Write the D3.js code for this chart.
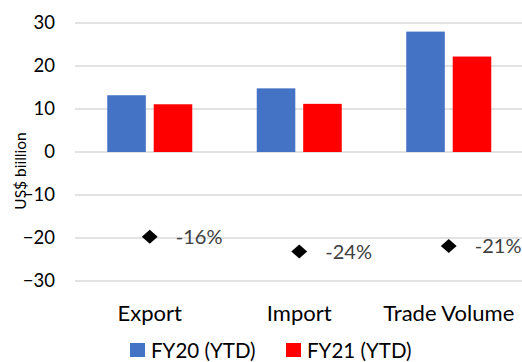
<!DOCTYPE html>
<html>
<head>
<meta charset="utf-8">
<script src="https://cdn.jsdelivr.net/npm/d3@7"></script>
<style>
  html, body { margin: 0; padding: 0; background: #fff; }
  svg { display: block; font-family: Lato, "Open Sans", sans-serif; }
</style>
</head>
<body>
<svg id="chart" width="522" height="362"></svg>
<script>
// Trade figures, US$ billion (year to date)
const categories = ["Export", "Import", "Trade Volume"];
const seriesNames = ["FY20 (YTD)", "FY21 (YTD)"];
const fy20 = [13.2, 14.8, 28.0];
const fy21 = [11.1, 11.2, 22.2];
// Year-on-year change, percent (plotted on a hidden secondary axis)
const changePct = [-16, -24, -21];
const yTicks = [-30, -20, -10, 0, 10, 20, 30];
const colors = ["#4472C4", "#FF0000"];

const svg = d3.select("#chart");
const plot = { left: 75, right: 523.5, top: 23, bottom: 281 };

const x = d3.scaleBand().domain(categories).range([plot.left, plot.right]);
const xSeries = d3.scaleBand().domain(seriesNames)
  .range([-42.5, 42.5]).paddingInner(0.17);
const y = d3.scaleLinear().domain([-30, 30]).range([plot.bottom, plot.top]);
const y2 = d3.scaleLinear().domain([-40, 100]).range([plot.bottom, plot.top]);

// gridlines
svg.append("g")
  .selectAll("line").data(yTicks).join("line")
  .attr("x1", plot.left).attr("x2", plot.right)
  .attr("y1", d => y(d)).attr("y2", d => y(d))
  .attr("stroke", "#d9d9d9").attr("stroke-width", 1.3);

// y axis labels
const yAxis = svg.append("g")
  .attr("transform", `translate(${plot.left - 20},0)`)
  .call(d3.axisLeft(y).tickValues(yTicks).tickSize(0).tickPadding(0));
yAxis.select(".domain").remove();
yAxis.selectAll("text")
  .attr("font-family", "Lato, sans-serif")
  .attr("font-size", 18.5).attr("fill", "#000");

// y axis title
svg.append("text")
  .attr("transform", "translate(26,171) rotate(-90)")
  .attr("text-anchor", "middle")
  .attr("font-size", 15.5).attr("fill", "#000")
  .text("US$ biillion");

// bars
const rows = categories.map((c, i) => ({ cat: c, vals: [fy20[i], fy21[i]] }));
const groups = svg.append("g").selectAll("g").data(rows).join("g")
  .attr("transform", d => `translate(${x(d.cat) + x.bandwidth() / 2},0)`);
groups.selectAll("rect")
  .data(d => d.vals.map((v, j) => ({ name: seriesNames[j], v, j })))
  .join("rect")
  .attr("x", d => xSeries(d.name))
  .attr("width", xSeries.bandwidth())
  .attr("y", d => y(Math.max(0, d.v)))
  .attr("height", d => Math.abs(y(d.v) - y(0)))
  .attr("fill", d => colors[d.j]);

// change markers and labels
const marks = svg.append("g").selectAll("g")
  .data(categories.map((c, i) => ({ cat: c, p: changePct[i] })))
  .join("g")
  .attr("transform", d => `translate(${x(d.cat) + x.bandwidth() / 2},${y2(d.p)})`);
marks.append("path")
  .attr("d", d3.symbol(d3.symbolDiamond2, 145))
  .attr("transform", "scale(1.05,0.93)")
  .attr("fill", "#000");
marks.append("text")
  .attr("x", 26).attr("dy", "0.36em")
  .attr("font-size", 20).attr("fill", "#404040")
  .text(d => `${d.p}%`);

// category labels
svg.append("g").selectAll("text").data(categories).join("text")
  .attr("x", d => x(d) + x.bandwidth() / 2).attr("y", 321)
  .attr("text-anchor", "middle")
  .attr("font-size", 22).attr("fill", "#000")
  .text(d => d);

// legend
const legend = svg.append("g").selectAll("g").data(seriesNames).join("g")
  .attr("transform", (d, i) => `translate(${[130, 286][i]},343)`);
legend.append("rect").attr("width", 15).attr("height", 14)
  .attr("fill", (d, i) => colors[i]);
legend.append("text").attr("x", 21).attr("y", 15)
  .attr("font-size", 20.5).attr("fill", "#000")
  .text(d => d);
</script>
</body>
</html>
